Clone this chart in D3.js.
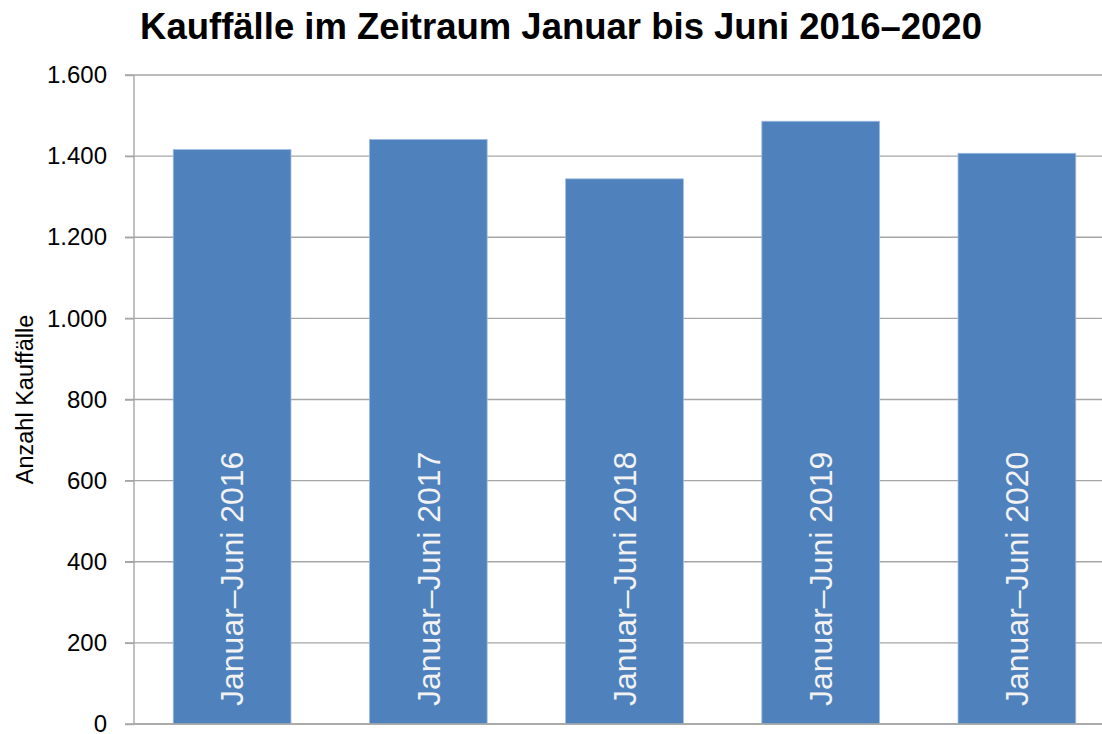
<!DOCTYPE html>
<html>
<head>
<meta charset="utf-8">
<script src="https://cdn.jsdelivr.net/npm/d3@7"></script>
<style>
    body { margin: 0; background: #fff; }
    svg text { font-family: "Liberation Sans", Arial, sans-serif; }
</style>
</head>
<body>
<svg id="chart" width="1102" height="734"></svg>
<script>
document.addEventListener("DOMContentLoaded", function() {

    // Data
    const periods = ["Januar–Juni 2016", "Januar–Juni 2017", "Januar–Juni 2018", "Januar–Juni 2019", "Januar–Juni 2020"];
    const purchases = [1416, 1441, 1344, 1486, 1407];
    const yTicks = [0, 200, 400, 600, 800, 1000, 1200, 1400, 1600];

    // Layout
    const width = 1102, height = 734;
    const plot = {left: 134, right: 1115, top: 75, bottom: 724};
    const barColor = "#4f81bd";
    const gridColor = "#a6a6a6";

    const de = d3.formatLocale({decimal: ",", thousands: ".", grouping: [3], currency: ["", " €"]});
    const fmt = de.format(",d");

    const svg = d3.select("#chart");

    // Scales
    const x = d3.scaleBand().domain(periods).range([plot.left, plot.right])
        .paddingInner(0.4).paddingOuter(0.2);
    const y = d3.scaleLinear().domain([0, 1600]).range([plot.bottom, plot.top]);

    // Gridlines
    svg.append("g")
        .selectAll("line")
        .data(yTicks)
        .enter().append("line")
        .attr("x1", plot.left - 9)
        .attr("x2", width)
        .attr("y1", d => y(d))
        .attr("y2", d => y(d))
        .attr("stroke", gridColor)
        .attr("stroke-width", 1.4);

    // Y axis
    const yAxis = svg.append("g")
        .attr("transform", `translate(${plot.left},0)`)
        .call(d3.axisLeft(y).tickValues(yTicks).tickFormat(fmt).tickSize(9).tickPadding(18));
    yAxis.select(".domain").attr("stroke", gridColor).attr("stroke-width", 1.4)
        .attr("d", `M0,${plot.top}V${plot.bottom}`);
    yAxis.selectAll(".tick line").attr("stroke", gridColor).attr("stroke-width", 1.4);
    yAxis.selectAll(".tick text")
        .attr("fill", "#000")
        .style("font-size", "24px")
        .style("font-family", "'Liberation Sans', Arial, sans-serif");

    // Bars
    svg.append("g")
        .selectAll("rect")
        .data(purchases)
        .enter().append("rect")
        .attr("x", (d, i) => x(periods[i]))
        .attr("y", d => y(d))
        .attr("width", x.bandwidth())
        .attr("height", d => y(0) - y(d))
        .attr("fill", barColor)
        .attr("stroke", "#9dbbe0")
        .attr("stroke-width", 0.8);

    // Labels inside bars
    svg.append("g")
        .selectAll("text")
        .data(periods)
        .enter().append("text")
        .attr("transform", d => `translate(${x(d) + x.bandwidth() / 2},${plot.bottom - 18}) rotate(-90)`)
        .attr("dy", "0.35em")
        .attr("text-anchor", "start")
        .attr("fill", "#f2f2f2")
        .style("font-size", "32px")
        .text(d => d);

    // Baseline
    svg.append("line")
        .attr("x1", plot.left)
        .attr("x2", width)
        .attr("y1", y(0))
        .attr("y2", y(0))
        .attr("stroke", gridColor)
        .attr("stroke-width", 1.4);

    // Title
    svg.append("text")
        .attr("x", 561)
        .attr("y", 39)
        .attr("text-anchor", "middle")
        .style("font-size", "36.5px")
        .style("font-weight", "bold")
        .text("Kauffälle im Zeitraum Januar bis Juni 2016–2020");

    // Y axis title
    svg.append("text")
        .attr("transform", `translate(33,${(plot.top + plot.bottom) / 2}) rotate(-90)`)
        .attr("text-anchor", "middle")
        .style("font-size", "23.5px")
        .text("Anzahl Kauffälle");
});
</script>
</body>
</html>
